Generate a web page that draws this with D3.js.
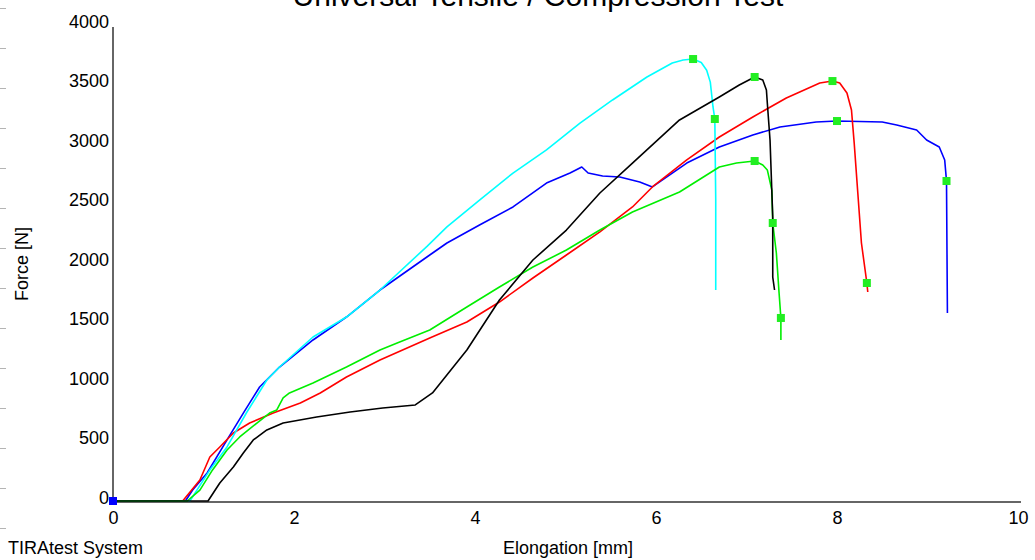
<!DOCTYPE html>
<html>
<head>
<meta charset="utf-8">
<script src="https://cdn.jsdelivr.net/npm/d3@7"></script>
<style>
  html, body { margin: 0; padding: 0; background: #fff; }
  svg { display: block; font-family: "Liberation Sans", Arial, sans-serif; }
</style>
</head>
<body>
<svg id="chart" width="1035" height="560"></svg>
<script>
// Elongation [mm] / Force [N] samples for each specimen
const blueCurve = [
  [0, 0], [0.80, 0], [0.88, 92], [1.04, 235], [1.26, 513], [1.44, 739], [1.62, 958],
  [1.84, 1126], [2.21, 1353], [2.58, 1546], [2.95, 1773], [3.50, 2067], [3.69, 2168],
  [4.05, 2319], [4.42, 2471], [4.79, 2672], [5.05, 2756], [5.18, 2807], [5.25, 2756],
  [5.41, 2731], [5.60, 2723], [5.82, 2681], [5.96, 2639], [6.04, 2681], [6.34, 2840],
  [6.70, 2975], [7.07, 3076], [7.37, 3143], [7.77, 3185], [8.00, 3193], [8.50, 3185],
  [8.66, 3160], [8.88, 3118], [8.99, 3034], [9.13, 2975], [9.19, 2866], [9.21, 2689],
  [9.22, 1580]
];
const redCurve = [
  [0, 0], [0.77, 0], [0.96, 176], [1.07, 370], [1.18, 454], [1.33, 571], [1.51, 655],
  [1.77, 739], [2.07, 824], [2.29, 908], [2.58, 1042], [2.95, 1185], [3.50, 1370],
  [3.91, 1504], [4.27, 1672], [4.64, 1874], [5.01, 2067], [5.38, 2261], [5.74, 2471],
  [5.96, 2639], [6.34, 2866], [6.70, 3059], [7.07, 3227], [7.44, 3387], [7.81, 3513],
  [7.95, 3529], [8.03, 3513], [8.11, 3429], [8.16, 3286], [8.19, 3008], [8.23, 2588],
  [8.27, 2168], [8.33, 1832], [8.34, 1756]
];
const cyanCurve = [
  [0, 0], [0.85, 0], [1.07, 260], [1.26, 454], [1.48, 748], [1.70, 1017], [1.84, 1126],
  [2.21, 1378], [2.58, 1546], [2.95, 1773], [3.47, 2140], [3.69, 2303], [4.05, 2529],
  [4.42, 2756], [4.79, 2950], [5.16, 3176], [5.52, 3370], [5.90, 3563], [6.18, 3681],
  [6.30, 3706], [6.41, 3714], [6.50, 3685], [6.56, 3620], [6.60, 3520], [6.63, 3311],
  [6.65, 3210], [6.66, 2529], [6.66, 1773]
];
const greenCurve = [
  [0, 0], [0.82, 0], [0.96, 92], [1.10, 261], [1.26, 429], [1.40, 538], [1.59, 655],
  [1.73, 739], [1.81, 765], [1.88, 866], [1.95, 908], [2.21, 992], [2.58, 1126],
  [2.95, 1269], [3.14, 1328], [3.50, 1437], [3.91, 1630], [4.27, 1798], [4.64, 1966],
  [5.01, 2109], [5.38, 2277], [5.74, 2429], [6.26, 2597], [6.70, 2807], [6.89, 2840],
  [7.09, 2857], [7.18, 2824], [7.23, 2782], [7.28, 2613], [7.29, 2336], [7.33, 2084],
  [7.36, 1748], [7.38, 1538], [7.38, 1353]
];
const blackCurve = [
  [0, 0], [1.05, 0], [1.18, 151], [1.33, 286], [1.44, 403], [1.55, 513], [1.70, 597],
  [1.88, 655], [2.25, 706], [2.62, 748], [2.98, 782], [3.34, 807], [3.53, 908],
  [3.91, 1269], [4.27, 1689], [4.64, 2025], [5.01, 2277], [5.38, 2588], [5.74, 2840],
  [6.26, 3202], [6.70, 3395], [6.92, 3496], [7.09, 3563], [7.18, 3538], [7.22, 3454],
  [7.23, 3345], [7.26, 3034], [7.29, 2387], [7.29, 1882], [7.31, 1773]
];

// Evaluation points (max force, break points) per specimen
const blueMarks = [[8.00, 3193], [9.21, 2689]];
const redMarks = [[7.95, 3529], [8.33, 1832]];
const cyanMarks = [[6.41, 3714], [6.65, 3210]];
const greenMarks = [[7.09, 2857], [7.29, 2336], [7.38, 1538]];
const blackMarks = [[7.09, 3563]];
const originMark = [[0, 0]];

const xTicks = [0, 2, 4, 6, 8, 10];
const yTicks = [0, 500, 1000, 1500, 2000, 2500, 3000, 3500, 4000];

const titleText = "Universal Tensile / Compression Test";
const xTitle = "Elongation [mm]";
const yTitle = "Force [N]";
const footer = "TIRAtest System";

const series = [
  { data: blueCurve, marks: blueMarks, color: "#0000ff" },
  { data: redCurve, marks: redMarks, color: "#ff0000" },
  { data: cyanCurve, marks: cyanMarks, color: "#00ffff" },
  { data: greenCurve, marks: greenMarks, color: "#00ee00" },
  { data: blackCurve, marks: blackMarks, color: "#000000" }
];

const svg = d3.select("#chart");
const x = d3.scaleLinear().domain([0, 10]).range([113, 1018]);
const y = d3.scaleLinear().domain([0, 4000]).range([501, 25]);

// decorative ruler ticks along the left edge
const ruler = d3.range(8, 560, 40);
svg.append("g").selectAll("line").data(ruler).join("line")
  .attr("x1", 0).attr("x2", 6)
  .attr("y1", d => d + 0.5).attr("y2", d => d + 0.5)
  .attr("stroke", "#b4b4b4").attr("stroke-width", 1);

// title (partly outside the top edge)
svg.append("text")
  .attr("x", 538).attr("y", 6)
  .attr("text-anchor", "middle")
  .attr("font-size", 30)
  .attr("fill", "#000")
  .text(titleText);

// axes
const xAxis = d3.axisBottom(x).tickValues(xTicks).tickSize(0).tickPadding(0).tickFormat(d3.format("d"));
const gx = svg.append("g").attr("transform", `translate(0,${y(0) + 1})`).call(xAxis);
gx.select(".domain").attr("stroke", "#333").attr("stroke-width", 1.5).attr("d", `M${x(0)},0H${x(10) + 3}`);
gx.selectAll("text").attr("font-size", 18).attr("fill", "#000")
  .attr("font-family", "Liberation Sans, Arial, sans-serif").attr("dy", null).attr("y", 22);

const yAxis = d3.axisLeft(y).tickValues(yTicks).tickSize(0).tickPadding(4).tickFormat(d3.format("d"));
const gy = svg.append("g").attr("transform", `translate(${x(0)},0)`).call(yAxis);
gy.select(".domain").attr("stroke", "#333").attr("stroke-width", 1.5).attr("d", `M0,${y(0) + 1}V${y(4000) + 2}`);
gy.selectAll("text").attr("font-size", 18).attr("fill", "#000")
  .attr("font-family", "Liberation Sans, Arial, sans-serif").attr("dy", null).attr("y", 2);

// curves
const line = d3.line().x(d => x(d[0])).y(d => y(d[1]));
const plot = svg.append("g");
series.forEach(s => {
  plot.append("path")
    .datum(s.data)
    .attr("d", line)
    .attr("fill", "none")
    .attr("stroke", s.color)
    .attr("stroke-width", 1.6)
    .attr("stroke-linejoin", "round");
});

// evaluation markers
series.forEach(s => {
  plot.append("g").selectAll("rect").data(s.marks).join("rect")
    .attr("x", d => x(d[0]) - 4).attr("y", d => y(d[1]) - 4)
    .attr("width", 8).attr("height", 8)
    .attr("fill", "#22ee22");
});
plot.append("g").selectAll("rect").data(originMark).join("rect")
  .attr("x", d => x(d[0]) - 4).attr("y", d => y(d[1]) - 4)
  .attr("width", 8).attr("height", 8)
  .attr("fill", "#0000ff");

// axis titles and footer
svg.append("text")
  .attr("transform", `translate(28,264) rotate(-90)`)
  .attr("text-anchor", "middle")
  .attr("font-size", 18)
  .text(yTitle);
svg.append("text")
  .attr("x", 503).attr("y", 554)
  .attr("font-size", 18)
  .text(xTitle);
svg.append("text")
  .attr("x", 8).attr("y", 554)
  .attr("font-size", 18)
  .text(footer);
</script>
</body>
</html>
